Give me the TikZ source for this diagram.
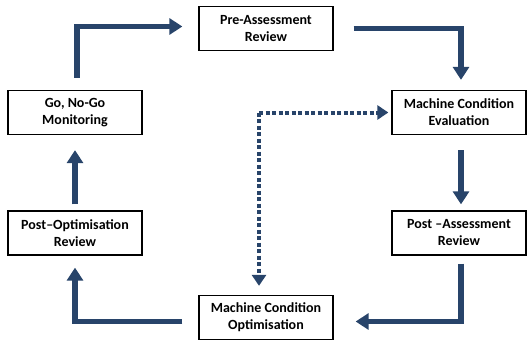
\documentclass[tikz,border=0pt]{standalone}
\usepackage{fontspec}
\setmainfont{Carlito}
\usetikzlibrary{arrows.meta, positioning, calc}
\definecolor{FlowBlue}{RGB}{40, 68, 106}

\begin{document}
\begin{tikzpicture}[
        x=1pt, y=-1pt,
        box/.style={rectangle, draw=black, line width=1.3pt, minimum width=134pt, minimum height=44pt,
            align=center, inner sep=2pt, font=\bfseries\fontsize{14}{17}\selectfont},
        arrow/.style={-{Triangle[length=13pt, width=16pt]}, line width=5.5pt, FlowBlue},
        dotarrow/.style={-{Triangle[length=11pt, width=14pt]}, line width=4pt, FlowBlue,
            dash pattern=on 4pt off 2.5pt}
    ]
        \useasboundingbox (0, 0) rectangle (527, 340);

        % cycle boxes
        \node[box] (pre)    at (266, 28.5)  {Pre-Assessment\\Review};
        \node[box] (eval)   at (459, 112.5) {Machine Condition\\Evaluation};
        \node[box] (postas) at (459, 233)   {Post --Assessment\\Review};
        \node[box] (opt)    at (266, 317.5) {Machine Condition\\Optimisation};
        \node[box] (postop) at (75, 233)    {Post--Optimisation\\Review};
        \node[box] (gonogo) at (75, 112.5)  {Go, No-Go\\Monitoring};

        % main loop
        \draw[arrow] ([xshift=2pt, yshift=12pt]gonogo.north) |- ([xshift=-16pt, yshift=2pt]pre.west);
        \draw[arrow] ([xshift=20pt]pre.east) -| ([xshift=2pt, yshift=10pt]eval.north);
        \draw[arrow] ([xshift=2pt, yshift=-15pt]eval.south) -- ([xshift=2pt, yshift=6pt]postas.north);
        \draw[arrow] ([xshift=2pt, yshift=-8pt]postas.south) |- ([xshift=22pt, yshift=-4pt]opt.east);
        \draw[arrow] ([xshift=-16pt, yshift=-4pt]opt.west) -| ([yshift=-12pt]postop.south);
        \draw[arrow] ([yshift=6pt]postop.north) -- ([yshift=-15pt]gonogo.south);

        % shortcut
        \coordinate (split) at ([xshift=-7pt]opt.north |- eval.west);
        \draw[dotarrow] (split) -- ([xshift=-3pt]eval.west);
        \draw[dotarrow] (split) -- ([yshift=9pt]split |- opt.north);
    \end{tikzpicture}
\end{document}
